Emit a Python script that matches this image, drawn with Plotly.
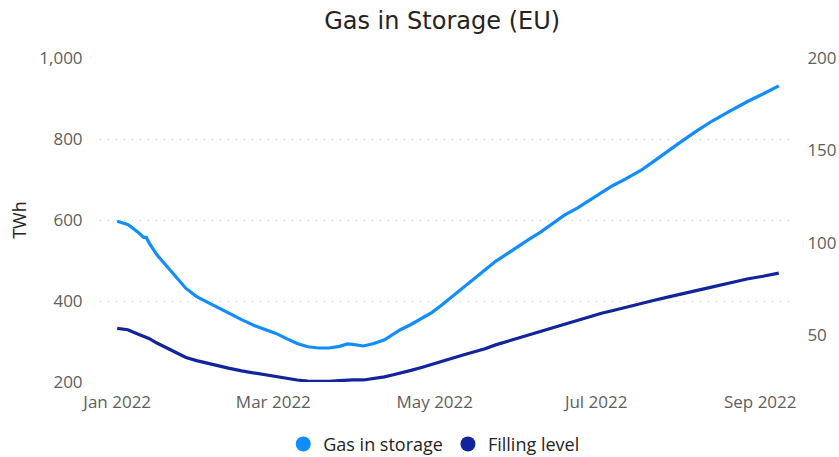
import plotly.graph_objects as go

dates = ["2022-01-01", "2022-01-05", "2022-01-09", "2022-01-11", "2022-01-12", "2022-01-13",
         "2022-01-16", "2022-01-20", "2022-01-24", "2022-01-27", "2022-01-31", "2022-02-03",
         "2022-02-07", "2022-02-12", "2022-02-17", "2022-02-22", "2022-02-26", "2022-03-02",
         "2022-03-06", "2022-03-10", "2022-03-14", "2022-03-18", "2022-03-22", "2022-03-26",
         "2022-03-29", "2022-03-31", "2022-04-04", "2022-04-08", "2022-04-12", "2022-04-15",
         "2022-04-18", "2022-04-22", "2022-04-26", "2022-04-30", "2022-05-04", "2022-05-08",
         "2022-05-12", "2022-05-16", "2022-05-20", "2022-05-24", "2022-05-28", "2022-06-01",
         "2022-06-06", "2022-06-10", "2022-06-15", "2022-06-19", "2022-06-24", "2022-06-29",
         "2022-07-03", "2022-07-07", "2022-07-12", "2022-07-18", "2022-07-23", "2022-07-28",
         "2022-08-02", "2022-08-08", "2022-08-14", "2022-08-20", "2022-08-27", "2022-09-02",
         "2022-09-08"]

gas_in_storage = [597, 589, 569, 557, 557, 544,
                  514, 484, 455, 431, 411, 401,
                  386, 369, 354, 339, 330, 320,
                  307, 295, 287, 284, 284, 288,
                  294, 293, 289, 295, 304, 316,
                  329, 342, 356, 372, 392, 413,
                  435, 456, 477, 498, 515, 533,
                  554, 570, 593, 612, 630, 651,
                  668, 684, 701, 723, 746, 770,
                  793, 820, 845, 867, 892, 911,
                  931]

filling_level = [53.5, 52.8, 50.4, 49.3, 49.1, 48.1,
                 45.6, 42.6, 39.6, 37.8, 36.1, 35.0,
                 33.5, 32.0, 30.5, 29.3, 28.5, 27.7,
                 26.6, 25.6, 25.0, 24.7, 24.8, 25.2,
                 25.6, 25.7, 25.6, 26.3, 27.3, 28.3,
                 29.2, 30.8, 32.4, 34.2, 35.9, 37.5,
                 39.3, 40.9, 42.5, 44.6, 46.3, 48.2,
                 50.5, 52.2, 54.3, 56.0, 58.0, 60.0,
                 61.7, 63.1, 65.0, 67.2, 68.8, 70.5,
                 72.0, 74.0, 76.0, 78.0, 80.3, 81.8,
                 83.5]

left_ticks = [200, 400, 600, 800, 1000]
right_ticks = [50, 100, 150, 200]

C1 = "#118DFF"
C2 = "#12239E"
TXT = "#605E5C"
DARK = "#252423"
FONT = "Open Sans"
GRID = "#C8C6C4"

fig = go.Figure()
fig.add_trace(go.Scatter(x=dates, y=gas_in_storage, mode="lines", name="Gas in storage",
                         line=dict(color=C1, width=3.2), showlegend=False, yaxis="y"))
fig.add_trace(go.Scatter(x=dates, y=filling_level, mode="lines", name="Filling level",
                         line=dict(color=C2, width=3.2), showlegend=False, yaxis="y2"))
# legend entries with circle symbols
fig.add_trace(go.Scatter(x=[None], y=[None], mode="markers", name="Gas in storage",
                         marker=dict(color=C1, size=15, symbol="circle")))
fig.add_trace(go.Scatter(x=[None], y=[None], mode="markers", name="Filling level",
                         marker=dict(color=C2, size=15, symbol="circle")))

fig.update_layout(
    width=839, height=457,
    margin=dict(l=100, r=47, t=58, b=75),
    paper_bgcolor="white", plot_bgcolor="white",
    font=dict(family=FONT, color=TXT, size=17),
    title=dict(text="Gas in Storage (EU)", x=0.527, xref="container", xanchor="center",
               y=0.955, yref="container", yanchor="middle",
               font=dict(family="DejaVu Sans", size=24, color=DARK)),
    xaxis=dict(type="date", range=["2021-12-25 12:00", "2022-09-13"],
               tick0="2022-01-01", dtick="M2", tickformat="%b %Y",
               showgrid=False, zeroline=False, showline=False, automargin=False,
               ticks="outside", ticklen=5, tickcolor="rgba(0,0,0,0)",
               tickfont=dict(size=17, color=TXT)),
    yaxis=dict(range=[200, 1000], tickvals=left_ticks, tickformat=",",
               showgrid=True, gridcolor=GRID, griddash="1px,7px", gridwidth=1.3,
               zeroline=False, showline=False, automargin=False,
               ticks="outside", ticklen=13, tickcolor="rgba(0,0,0,0)",
               title=dict(text="TWh", font=dict(size=18, color=DARK), standoff=8),
               tickfont=dict(size=17, color=TXT)),
    yaxis2=dict(range=[24.5, 200], tickvals=right_ticks, overlaying="y", side="right",
                showgrid=False, zeroline=False, showline=False, automargin=False,
                ticks="outside", ticklen=11, tickcolor="rgba(0,0,0,0)",
                tickfont=dict(size=17, color=TXT)),
    legend=dict(orientation="h", x=0.517, xref="container", xanchor="center",
                y=0.028, yref="container", yanchor="middle",
                font=dict(size=18, color=DARK), itemwidth=30, tracegroupgap=0),
)

fig.write_html("out.html", config={"displayModeBar": False},
               post_script="document.body.style.margin='0';document.body.style.padding='0';")
